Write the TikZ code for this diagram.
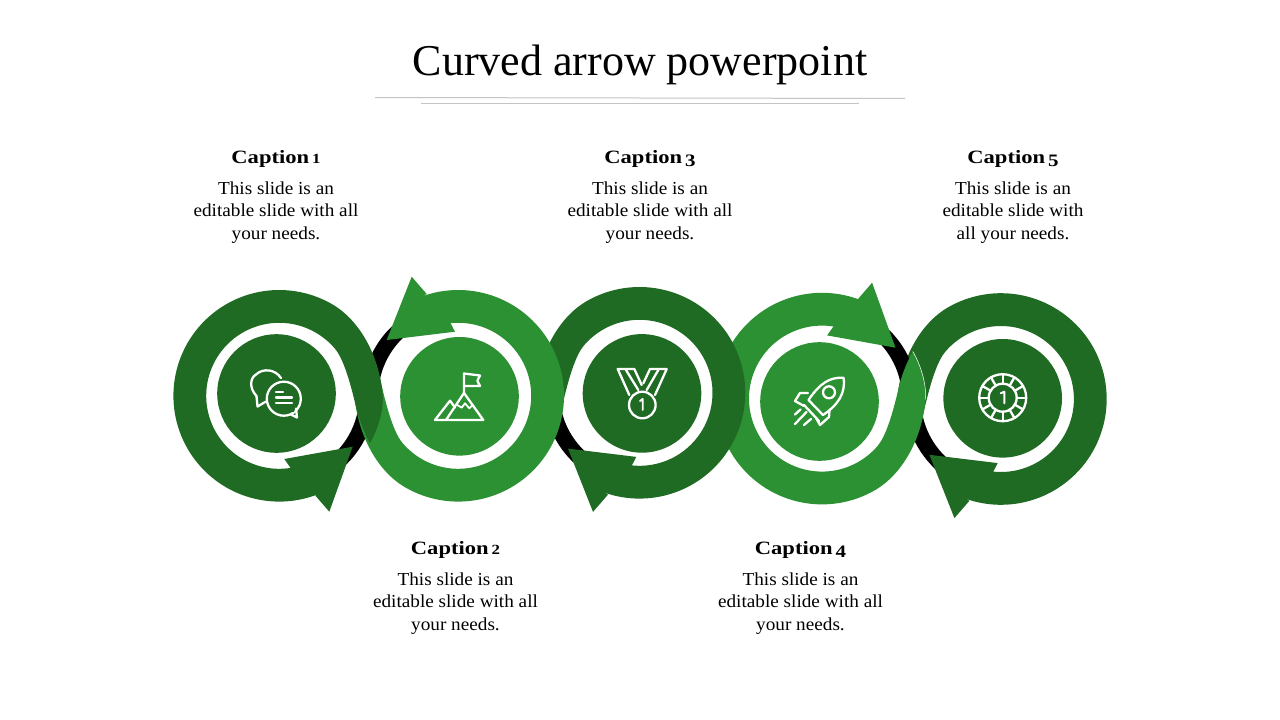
\documentclass[tikz,border=0pt]{standalone}
\usepackage{fontspec}
\usetikzlibrary{calc}
\setmainfont{Liberation Serif}
\newfontfamily\bodyfont[FakeStretch=1.05]{Liberation Serif}
\newfontfamily\capfont[FakeStretch=1.2]{Liberation Serif}
\definecolor{darkgreen}{HTML}{206B24}
\definecolor{lightgreen}{HTML}{2C9132}
\definecolor{rulegray}{HTML}{C4C4C4}
\tikzset{
  iconline/.style={draw=white,line width=2.3pt,line join=round,line cap=round},
  disc/.style={circle,minimum size=118.6pt,inner sep=0pt},
  captionhead/.style={anchor=base,font=\capfont\fontsize{18.8}{20}\selectfont\bfseries},
  captionbody/.style={anchor=north,align=center,inner sep=0pt,font=\bodyfont\fontsize{18.3}{22.5}\selectfont},
  titlerule/.style={draw=rulegray,line width=1pt}
}
\newcommand\lownum[1]{\hspace{3pt}{\fontsize{14}{16}\selectfont #1}}
\newcommand\dropnum[1]{\hspace{3pt}\raisebox{-3.2pt}{\fontsize{17.5}{18}\selectfont #1}}
% #1 cx, #2 cy, #3 xscale, #4 yscale
\newcommand\crescent[4]{%
  \begin{scope}[shift={(#1,#2)},xscale=#3,yscale=#4]
    \fill[black] plot[domain=0:50,samples=20] ({80*cos(\x)},{80*sin(\x)})
      -- plot[domain=50:0,samples=20] ({96*cos(\x)},{96*sin(\x)}) -- cycle;
  \end{scope}}
% #1 cx, #2 cy, #3 xscale, #4 yscale, #5 colour, #6 hole end angle, #7 arrow points
\newcommand\ringshape[7]{%
  \begin{scope}[shift={(#1,#2)},xscale=#3,yscale=#4]
    \fill[#5] plot[domain=70:300,samples=90] ({105.8*cos(\x)},{105.8*sin(\x)})
      .. controls (84,-73.5) and (101,-34) .. (103.5,-0.8)
      .. controls (104.5,15) and (99,33) .. (90.8,47.2)
      .. controls (84.5,36) and (80.5,25) .. (77.5,14.2)
      .. controls (73.5,-3) and (66,-35) .. (55.9,-46.9)
      -- plot[domain=320:#6,samples=90] ({73*cos(\x)},{73*sin(\x)})
      #7 -- cycle;
  \end{scope}}
\newcommand\arrowA{-- (5.1,63.2) -- (73.5,50.9) -- (50.1,115.9) -- (36.5,100.2)}
\newcommand\arrowB{-- (3.2,64.1) -- (71.5,55.8) -- (46.5,119.1) -- (31.5,101.8)}
\begin{document}
\begin{tikzpicture}[x=1pt,y=-1pt]
\useasboundingbox (0,0) rectangle (1280,720);
\fill[white] (0,0) rectangle (1280,720);
% title
\node[anchor=base,inner sep=0pt,font=\fontsize{44}{48}\selectfont] (title) at (640,75) {Curved arrow powerpoint};
\coordinate (ruleAl) at (375,97.5); \coordinate (ruleAr) at (905,98.5);
\coordinate (ruleBl) at (421,103.3); \coordinate (ruleBr) at (859,103.3);
\draw[titlerule] (ruleAl) -- (ruleAr);
\draw[titlerule] (ruleBl) -- (ruleBr);
% black crescents
\crescent{279.2}{395.8}{1}{1}
\crescent{458.2}{395.8}{-1}{-1}
\crescent{639.5}{392.8}{-1}{1}
\crescent{1000.9}{399}{-1}{1}
% rings, back to front
\ringshape{1000.9}{399}{-1}{1}{darkgreen}{84}{\arrowB}
\crescent{822}{398.6}{1}{-1}
\ringshape{822}{398.6}{1}{-1}{lightgreen}{81}{\arrowA}
\draw[white,line width=.5pt] (912.8,351.4) .. controls (921,365.6) and (926.5,384) .. (925.5,399.4);
\ringshape{639.5}{392.8}{-1}{1}{darkgreen}{84}{\arrowB}
\ringshape{458.2}{395.8}{-1}{-1}{lightgreen}{84}{\arrowB}
\ringshape{279.2}{395.8}{1}{1}{darkgreen}{81}{\arrowA}
% discs
\node[disc,fill=darkgreen] (disc1) at (276.5,393.5) {};
\node[disc,fill=lightgreen] (disc2) at (459.5,396.3) {};
\node[disc,fill=darkgreen] (disc3) at (642,393.4) {};
\node[disc,fill=lightgreen] (disc4) at (819.5,401.5) {};
\node[disc,fill=darkgreen] (disc5) at (1002.7,398.3) {};
% icon 1: speech bubbles
\draw[iconline] (256.5,396) .. controls (249,388) and (250,378) .. (256,374.5)
  .. controls (263,368) and (275,369) .. (281,378);
\draw[iconline] (256.5,396) -- (257.5,406.5) -- (266,401.5);
\draw[iconline,fill=darkgreen] (283.8,398.7) circle[radius=17];
\draw[iconline] (291,414.5) -- (297,417.5) -- (296,408.5);
\fill[darkgreen] (288,410) -- (295,406.5) -- (294,412) -- cycle;
\draw[iconline] (276,391.7) -- (283,391.7);
\draw[iconline] (276,397.5) -- (292,397.5);
\draw[iconline] (276,403.3) -- (292,403.3);
% icon 2: mountain with flag
\draw[iconline] (464,393) -- (464,373.5) -- (480,375.5) -- (477.3,380.7) -- (480,386) -- (464,386);
\draw[iconline] (435,420) -- (483.3,420) -- (464,393) -- (446,420);
\draw[iconline] (435,420) -- (450,400.7) -- (455,407.5);
\draw[iconline,line width=1.8pt] (457.3,405) -- (461.7,407.7) -- (465,403.3) -- (469.3,408.3) -- (472.7,405);
% icon 3: medal
\draw[iconline] (642.3,405) circle[radius=13.3];
\draw[iconline] (629.3,395) -- (617.7,369) -- (634.3,369) -- (641.7,385);
\draw[iconline] (626,370) -- (638.3,390);
\draw[iconline] (655,395) -- (666.7,369) -- (650,369) -- (643.3,383.3);
\draw[iconline] (658.3,370) -- (646.7,390);
\draw[iconline,line width=1.9pt] (640,401) -- (642.7,399) -- (642.7,410);
% icon 4: rocket
\draw[iconline] (843.5,377.7) .. controls (830,377) and (820,383) .. (808.5,400)
  -- (823,415) .. controls (838,405) and (846,393) .. (843.5,377.7) -- cycle;
\draw[iconline] (829,392.3) circle[radius=6];
\draw[iconline] (808,393) -- (800,393) -- (795,401) -- (804,406);
\draw[iconline] (829.5,410) -- (829,417) -- (820,425) -- (816,418);
\draw[iconline] (804,405) -- (819,421);
\draw[iconline] (795,414.5) -- (800.5,409.5);
\draw[iconline] (795,424) -- (806.5,412);
\draw[iconline] (804,425) -- (811,419);
% icon 5: chip
\draw[iconline] (1002.7,397.7) circle[radius=23.5];
\draw[iconline] (1002.7,397.7) circle[radius=14];
\foreach \a in {0,30,...,330}
  \draw[iconline] ($(1002.7,397.7)+(\a:14)$) -- ($(1002.7,397.7)+(\a:23.5)$);
\draw[iconline,line width=1.9pt] (1000.7,393.3) -- (1004.3,391.7) -- (1004.3,403.3);
% captions
\node[captionhead] (cap1) at (276,163.3) {Caption\lownum{1}};
\node[captionbody] (body1) at (276,181.3) {This slide is an\\editable slide with all\\your needs.};
\node[captionhead] (cap2) at (455.5,554.3) {Caption\lownum{2}};
\node[captionbody] (body2) at (455.5,572.3) {This slide is an\\editable slide with all\\your needs.};
\node[captionhead] (cap3) at (650,163.3) {Caption\dropnum{3}};
\node[captionbody] (body3) at (650,181.3) {This slide is an\\editable slide with all\\your needs.};
\node[captionhead] (cap4) at (800.5,554.3) {Caption\dropnum{4}};
\node[captionbody] (body4) at (800.5,572.3) {This slide is an\\editable slide with all\\your needs.};
\node[captionhead] (cap5) at (1013,163.3) {Caption\dropnum{5}};
\node[captionbody] (body5) at (1013,181.3) {This slide is an\\editable slide with\\all your needs.};
\end{tikzpicture}
\end{document}
